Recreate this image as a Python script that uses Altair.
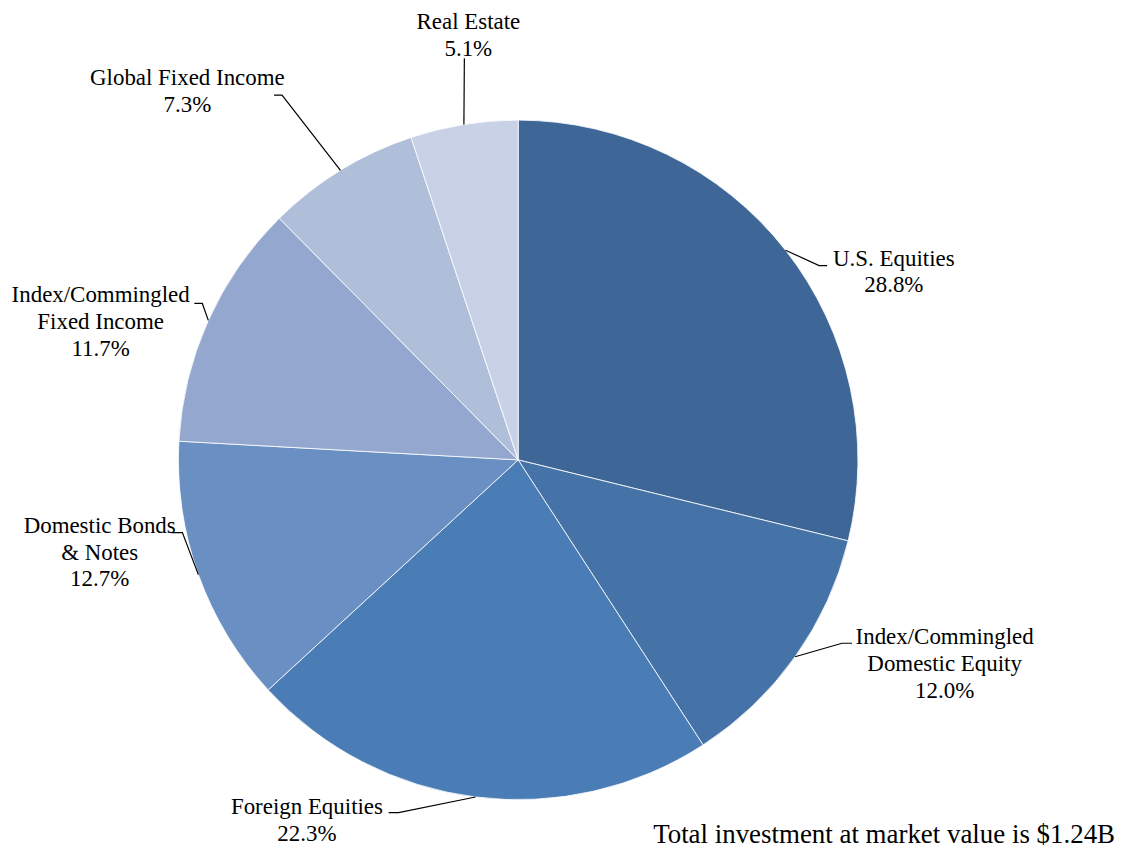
import altair as alt
import numpy as np
import pandas as pd

# ---------------- data ----------------
categories = [
    "U.S. Equities",
    "Index/Commingled Domestic Equity",
    "Foreign Equities",
    "Domestic Bonds & Notes",
    "Index/Commingled Fixed Income",
    "Global Fixed Income",
    "Real Estate",
]
shares = [28.8, 12.0, 22.3, 12.7, 11.7, 7.3, 5.1]
label_names = [
    ["U.S. Equities"],
    ["Index/Commingled", "Domestic Equity"],
    ["Foreign Equities"],
    ["Domestic Bonds", "& Notes"],
    ["Index/Commingled", "Fixed Income"],
    ["Global Fixed Income"],
    ["Real Estate"],
]
footnote = "Total investment at market value is $1.24B"

# ---------------- style / layout ----------------
colors = ["#3E6797", "#4573A8", "#4A7CB5", "#6A8FC3", "#94A8CF", "#AFBED9", "#C8D1E5"]
W, H = 1120, 844          # plot area (page coords 8 .. 8+W)
CX, CY, R = 520, 460, 341  # pie centre / radius in page coords
FONT = "Liberation Serif"
LINE_H = 27
# label block centre-x and first-line middle-y (page coords)
label_pos = [(897, 258), (948, 638), (308, 808), (100, 526), (101, 295), (188, 77), (470, 21)]
# leader line elbow and end points (page coords)
elbows = [(822, 265), (845, 644), (400, 814), (183, 533), (203, 303), (283, 94), (466, 57)]
ends = [(830, 265), (855, 644), (390, 814), (172, 533), (195, 303), (275, 94), (466, 57)]

# ---------------- derived tables ----------------
vals = np.array(shares)
total = vals.sum()
mid = (np.cumsum(vals) - vals / 2) / total * 2 * np.pi

pie_df = pd.DataFrame({"cat": categories, "share": shares, "idx": range(len(shares))})

line_rows = []
for i, c in enumerate(categories):
    ex, ey = CX + R * np.sin(mid[i]), CY - R * np.cos(mid[i])
    for k, (px, py) in enumerate([(ex, ey), elbows[i], ends[i]]):
        line_rows.append({"cat": c, "pt": k, "x": px, "y": py})
line_df = pd.DataFrame(line_rows)

text_rows = []
for i, c in enumerate(categories):
    lines = label_names[i] + [f"{shares[i]:.1f}%"]
    lx, ly = label_pos[i]
    for k, t in enumerate(lines):
        text_rows.append({"t": t, "x": lx, "y": ly + k * LINE_H})
text_df = pd.DataFrame(text_rows)

foot_df = pd.DataFrame({"t": [footnote], "x": [1119], "y": [836]})

xs = alt.Scale(domain=[8, 8 + W], nice=False, zero=False)
ys = alt.Scale(domain=[8, 8 + H], nice=False, zero=False, reverse=True)

arcs = alt.Chart(pie_df).mark_arc(outerRadius=R, stroke="white", strokeWidth=0.8).encode(
    theta=alt.Theta("share:Q", stack=True),
    color=alt.Color("cat:N", scale=alt.Scale(domain=categories, range=colors), legend=None),
    order=alt.Order("idx:Q"),
    x=alt.value(CX - 8),
    y=alt.value(CY - 8),
)

leaders = alt.Chart(line_df).mark_line(color="black", strokeWidth=1.2).encode(
    x=alt.X("x:Q", scale=xs, axis=None),
    y=alt.Y("y:Q", scale=ys, axis=None),
    detail="cat:N",
    order="pt:Q",
)

labels = alt.Chart(text_df).mark_text(
    font=FONT, fontSize=23, align="center", baseline="middle", color="black"
).encode(
    x=alt.X("x:Q", scale=xs, axis=None),
    y=alt.Y("y:Q", scale=ys, axis=None),
    text="t:N",
)

foot = alt.Chart(foot_df).mark_text(
    font=FONT, fontSize=27, align="right", baseline="middle", color="black"
).encode(
    x=alt.X("x:Q", scale=xs, axis=None),
    y=alt.Y("y:Q", scale=ys, axis=None),
    text="t:N",
)

chart = alt.layer(arcs, leaders, labels, foot).properties(
    width=W, height=H, padding=0, autosize="none"
).configure_view(stroke=None)

chart.save("out.html", embed_options={"renderer": "svg", "actions": False})
